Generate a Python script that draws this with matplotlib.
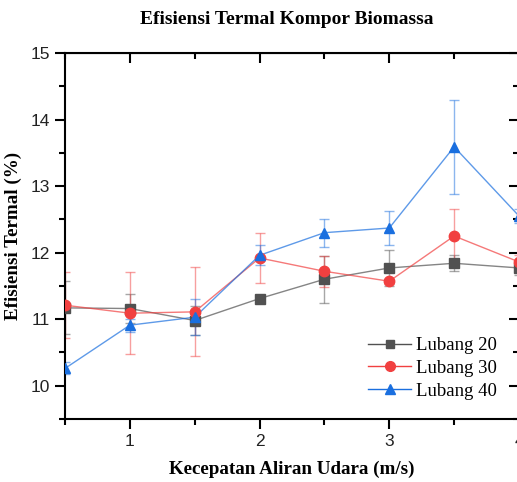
import matplotlib.pyplot as plt
from matplotlib.ticker import MultipleLocator

# air flow speed (m/s)
kecepatan = [0.5, 1.0, 1.5, 2.0, 2.5, 3.0, 3.5, 4.0]

# thermal efficiency (%) per hole count, with error bars
lubang20 = [11.17, 11.16, 10.98, 11.31, 11.60, 11.77, 11.84, 11.77]
err20 = [0.40, 0.22, 0.22, 0.03, 0.35, 0.27, 0.12, 0.10]

lubang30 = [11.21, 11.09, 11.11, 11.92, 11.72, 11.57, 12.25, 11.86]
err30 = [0.50, 0.62, 0.67, 0.37, 0.23, 0.04, 0.40, 0.10]

lubang40 = [10.26, 10.91, 11.03, 11.96, 12.30, 12.37, 13.59, 12.55]
err40 = [0.09, 0.10, 0.27, 0.15, 0.21, 0.25, 0.71, 0.10]

labels = ['Lubang 20', 'Lubang 30', 'Lubang 40']
colors = ['#515151', '#f14040', '#1a6fdf']
markers = ['s', 'o', '^']
msizes = [6.5, 7.5, 7.5]

serif = 'Liberation Serif'
sans = 'Liberation Sans'

fig = plt.figure(figsize=(5.17, 4.82), dpi=100)
ax = fig.add_axes([65 / 517, 63 / 482, 454 / 517, 366 / 482])

series = [(lubang20, err20), (lubang30, err30), (lubang40, err40)]
for (vals, errs), lab, c, m, ms in zip(series, labels, colors, markers, msizes):
    ax.errorbar(kecepatan, vals, yerr=errs, color=c, ecolor=c, alpha=0.5,
                elinewidth=1.0, capsize=3.5, capthick=1.0, lw=0, zorder=2)
    ax.plot(kecepatan, vals, color=c, lw=1.0, alpha=0.7, zorder=3)
    ax.plot(kecepatan, vals, ls='none', marker=m, ms=ms, color=c,
            mec=c, zorder=4, label=lab)

ax.set_xlim(0.5, 4.0)
ax.set_ylim(9.5, 15.0)
ax.xaxis.set_major_locator(MultipleLocator(1))
ax.xaxis.set_minor_locator(MultipleLocator(0.5))
ax.yaxis.set_major_locator(MultipleLocator(1))
ax.yaxis.set_minor_locator(MultipleLocator(0.5))

for s in ax.spines.values():
    s.set_linewidth(1.5)

ax.tick_params(which='both', direction='out', top=False, right=False,
               width=1.5, labelsize=12.5, labelcolor='#222222')
ax.tick_params(which='major', length=7, pad=4)
ax.tick_params(which='minor', length=4)
for lbl in ax.get_xticklabels() + ax.get_yticklabels():
    lbl.set_fontfamily(sans)

# mirrored inward ticks on top and right
for side in ('top', 'right'):
    sec = ax.secondary_xaxis('top') if side == 'top' else ax.secondary_yaxis('right')
    loc = sec.xaxis if side == 'top' else sec.yaxis
    loc.set_major_locator(MultipleLocator(1))
    loc.set_minor_locator(MultipleLocator(0.5))
    sec.tick_params(which='both', direction='in', width=1.5, labelleft=False,
                    labelright=False, labeltop=False)
    sec.tick_params(which='major', length=7)
    sec.tick_params(which='minor', length=4)

ax.set_xlabel('Kecepatan Aliran Udara (m/s)', family=serif,
              fontweight='bold', fontsize=13.7, labelpad=8)
ax.set_ylabel('Efisiensi Termal (%)', family=serif,
              fontweight='bold', fontsize=13.7, labelpad=6)
fig.text(287 / 517, 1 - 20 / 482, 'Efisiensi Termal Kompor Biomassa',
         family=serif, fontweight='bold', fontsize=14,
         ha='center', va='center')

handles = []
for lab, c, m, ms in zip(labels, colors, markers, msizes):
    h, = ax.plot([], [], color=c, lw=1.0, marker=m, ms=ms - 0.5, mec=c)
    handles.append(h)
ax.legend(handles, labels, loc='upper left',
          bbox_to_anchor=(368 / 517, 1 - 337 / 482),
          bbox_transform=fig.transFigure, frameon=False,
          prop={'family': serif, 'size': 13.5}, handlelength=2.3,
          labelspacing=0.3, handletextpad=0.25, borderaxespad=0,
          borderpad=0)

fig.savefig('out.png', dpi=100)
